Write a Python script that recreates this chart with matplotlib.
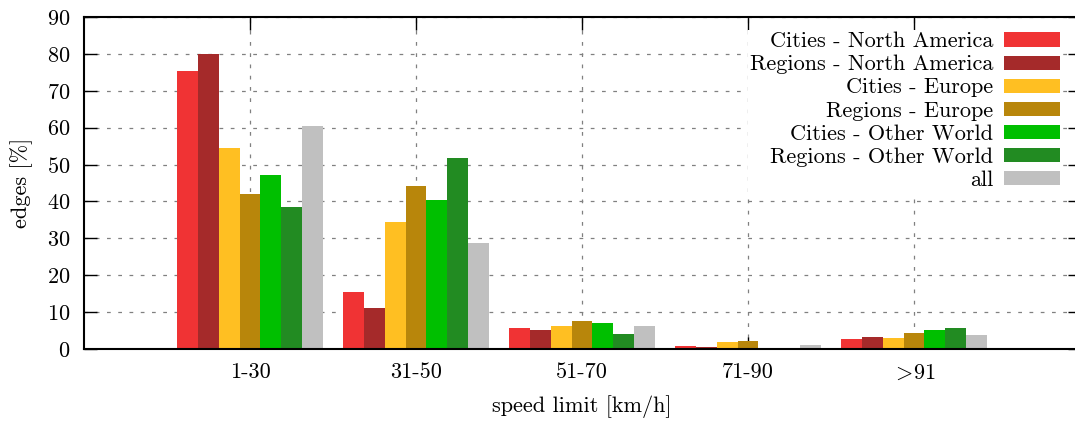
import matplotlib
matplotlib.use("Agg")
import matplotlib.pyplot as plt
import numpy as np

# ---- data ----
categories = ["1-30", "31-50", "51-70", "71-90", r"${>}\!$91"]
series = ["Cities - North America", "Regions - North America", "Cities - Europe",
          "Regions - Europe", "Cities - Other World", "Regions - Other World", "all"]
cities_na = [75.4, 15.4, 5.8, 0.9, 2.8]
regions_na = [80.1, 11.2, 5.2, 0.5, 3.2]
cities_eu = [54.5, 34.4, 6.2, 1.9, 3.1]
regions_eu = [41.9, 44.3, 7.5, 2.2, 4.3]
cities_ow = [47.2, 40.5, 7.0, 0.35, 5.1]
regions_ow = [38.6, 51.9, 4.1, 0.1, 5.6]
all_edges = [60.4, 28.6, 6.3, 1.2, 3.8]
values = [cities_na, regions_na, cities_eu, regions_eu, cities_ow, regions_ow, all_edges]
colors = ["#F03334", "#A52A2A", "#FFBF22", "#B8860B", "#00BF00", "#228B22", "#C0C0C0"]

# ---- style: Computer Modern look ----
plt.rcParams["font.family"] = ["cmr10", "DejaVu Serif"]
plt.rcParams["mathtext.fontset"] = "cm"
plt.rcParams["axes.formatter.use_mathtext"] = True
plt.rcParams["font.size"] = 16

fig = plt.figure(figsize=(10.75, 4.21), dpi=100)
ax = fig.add_axes([84 / 1075, 72 / 421, 996 / 1075, 332 / 421])

x = np.arange(len(categories))
n = len(series)
w = 1.0 / (n + 1)
for i, (name, vals, c) in enumerate(zip(series, values, colors)):
    offs = (i - (n - 1) / 2) * w
    ax.bar(x + offs, vals, width=w, color=c, edgecolor="none", label=name, zorder=2)

ax.set_xlim(-1, len(categories))
ax.set_ylim(0, 90)
ax.set_yticks(np.arange(0, 91, 10))
ax.set_xticks(x)
ax.set_xticklabels(categories)

ax.grid(True, color="#808080", linestyle=(0, (3, 6)), linewidth=0.9, zorder=0)
ax.set_axisbelow(True)

ax.tick_params(direction="in", length=9, width=1, top=True, right=True, pad=10)
ax.tick_params(axis="y", pad=10)
for s in ax.spines.values():
    s.set_linewidth(1.5)

ax.set_ylabel("edges [%]", labelpad=10)
ax.set_xlabel("speed limit [km/h]", labelpad=9)

leg = ax.legend(loc="upper right", markerfirst=False, frameon=True, facecolor="white",
                edgecolor="none", framealpha=1, fancybox=False, handlelength=2.5,
                handleheight=0.6, labelspacing=0.16, handletextpad=0.5,
                borderpad=0.1, borderaxespad=0, bbox_to_anchor=(0.982, 0.962))

fig.savefig("out.png", dpi=100)
